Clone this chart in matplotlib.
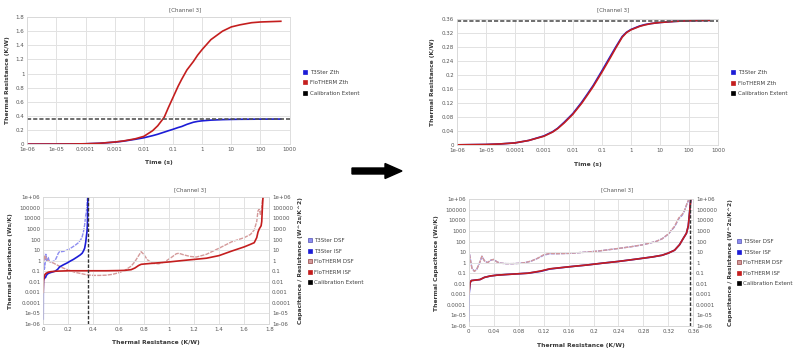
import matplotlib
matplotlib.use('Agg')
import matplotlib.pyplot as plt
from matplotlib.lines import Line2D
from matplotlib.patches import FancyArrow

plt.rcParams['font.family'] = 'DejaVu Sans'

# ---- data ----
time_ticks = [1e-6, 1e-5, 1e-4, 1e-3, 1e-2, 1e-1, 1, 10, 100, 1000]
time_labels = ['1e-06', '1e-05', '0.0001', '0.001', '0.01', '0.1', '1', '10', '100', '1000']
log_ticks = [1e-6, 1e-5, 1e-4, 1e-3, 1e-2, 1e-1, 1, 10, 100, 1e3, 1e4, 1e5, 1e6]
log_labels = ['1e-06', '1e-05', '0.0001', '0.001', '0.01', '0.1', '1', '10', '100',
              '1000', '10000', '100000', '1e+06']
calib_rth = 0.355

# top left: before calibration
t_left = [1e-6, 3e-6, 1e-5, 3e-5, 1e-4, 3e-4, 1e-3, 2e-3, 5e-3, 1e-2, 2e-2, 3e-2, 5e-2,
          7e-2, 0.1, 0.15, 0.2, 0.3, 0.5, 0.7, 1, 2, 5, 10, 20, 50, 100, 500]
t3ster_zth_left = [0, 0.0005, 0.001, 0.002, 0.005, 0.012, 0.028, 0.042, 0.068, 0.09,
                   0.12, 0.14, 0.17, 0.19, 0.21, 0.235, 0.25, 0.28, 0.31, 0.322, 0.33,
                   0.34, 0.347, 0.35, 0.352, 0.353, 0.354, 0.355]
flotherm_zth_left = [0, 0.0005, 0.001, 0.002, 0.005, 0.012, 0.03, 0.045, 0.075, 0.11,
                     0.19, 0.26, 0.38, 0.52, 0.66, 0.82, 0.92, 1.05, 1.17, 1.26, 1.34,
                     1.48, 1.6, 1.66, 1.69, 1.72, 1.73, 1.74]

# top right: after calibration
t_right = [1e-6, 3e-6, 1e-5, 3e-5, 1e-4, 3e-4, 1e-3, 2e-3, 3e-3, 5e-3, 1e-2, 2e-2, 3e-2,
           5e-2, 0.1, 0.2, 0.3, 0.5, 0.7, 1, 2, 3, 5, 10, 30, 100, 500]
t3ster_zth_right = [0.0005, 0.001, 0.0015, 0.003, 0.006, 0.013, 0.026, 0.038, 0.048,
                    0.065, 0.09, 0.122, 0.143, 0.17, 0.212, 0.255, 0.28, 0.31, 0.322,
                    0.33, 0.34, 0.344, 0.347, 0.35, 0.353, 0.355, 0.356]
flotherm_zth_right = [0.0005, 0.001, 0.0015, 0.003, 0.006, 0.013, 0.025, 0.037, 0.047,
                      0.063, 0.088, 0.119, 0.140, 0.167, 0.208, 0.251, 0.277, 0.308,
                      0.321, 0.329, 0.339, 0.343, 0.347, 0.35, 0.353, 0.355, 0.356]

# structure functions, T3Ster (same in both bottom panels)
r_t3_isf = [0, 0.0005, 0.002, 0.004, 0.01, 0.018, 0.025, 0.035, 0.045, 0.06, 0.075,
            0.095, 0.115, 0.13, 0.16, 0.19, 0.215, 0.24, 0.27, 0.295, 0.31, 0.32,
            0.33, 0.338, 0.344, 0.349, 0.352, 0.354, 0.356]
t3_isf = [3e-6, 1e-3, 0.012, 0.02, 0.022, 0.025, 0.04, 0.055, 0.065, 0.075, 0.085,
          0.1, 0.15, 0.25, 0.4, 0.6, 0.9, 1.3, 2.2, 3.5, 5, 8, 15, 50, 200, 600,
          3000, 5e4, 1e6]
r_t3_dsf = [0, 0.002, 0.005, 0.009, 0.013, 0.018, 0.021, 0.025, 0.03, 0.036, 0.04,
            0.045, 0.05, 0.06, 0.07, 0.08, 0.09, 0.1, 0.11, 0.12, 0.13, 0.14, 0.16,
            0.19, 0.21, 0.24, 0.26, 0.28, 0.3, 0.31, 0.32, 0.33, 0.337, 0.342, 0.346,
            0.35, 0.353]
t3_dsf = [20, 3, 0.3, 0.15, 0.25, 1.2, 4, 1.5, 1, 1.8, 2, 1.2, 0.9, 0.8, 0.8, 0.85,
          1, 1.4, 2.5, 5, 7, 7, 7.5, 10, 13, 22, 32, 50, 100, 180, 500, 2500, 1.5e4,
          3e4, 8e4, 4e5, 1e6]

# FloTHERM before calibration
r_fl_isf_left = [0, 0.002, 0.005, 0.01, 0.02, 0.04, 0.06, 0.1, 0.2, 0.3, 0.4, 0.5,
                 0.6, 0.65, 0.7, 0.73, 0.76, 0.78, 0.82, 0.9, 1.0, 1.1, 1.2, 1.3,
                 1.4, 1.5, 1.6, 1.65, 1.68, 1.7, 1.71, 1.72, 1.735, 1.74, 1.745, 1.75]
fl_isf_left = [1e-3, 0.012, 0.02, 0.04, 0.06, 0.08, 0.09, 0.1, 0.11, 0.11, 0.11, 0.11,
               0.115, 0.12, 0.14, 0.2, 0.35, 0.45, 0.5, 0.6, 0.75, 1.0, 1.3, 1.7, 3,
               8, 20, 35, 50, 150, 500, 1000, 2000, 5000, 1e5, 1e6]
r_fl_dsf_left = [0, 0.005, 0.01, 0.02, 0.03, 0.05, 0.08, 0.1, 0.15, 0.2, 0.25, 0.3,
                 0.35, 0.4, 0.45, 0.5, 0.55, 0.6, 0.65, 0.7, 0.73, 0.76, 0.78, 0.8,
                 0.83, 0.87, 0.92, 0.97, 1.02, 1.06, 1.08, 1.12, 1.17, 1.22, 1.3, 1.4,
                 1.5, 1.6, 1.65, 1.68, 1.7, 1.71, 1.72, 1.73, 1.74, 1.745, 1.75]
fl_dsf_left = [10, 1, 3, 2, 1.2, 0.8, 0.6, 0.45, 0.22, 0.13, 0.08, 0.06, 0.045, 0.04,
               0.04, 0.042, 0.05, 0.07, 0.12, 0.3, 0.8, 3, 7, 4, 1.2, 0.55, 0.5, 0.8,
               2, 4.5, 5, 3.5, 2.5, 2.2, 4, 15, 60, 150, 300, 800, 5000, 5e4, 8e4,
               2e4, 1e5, 5e5, 1e6]

# FloTHERM after calibration
fl_isf_right = [1e-3, 2e-3, 0.012, 0.02, 0.022, 0.025, 0.04, 0.055, 0.065, 0.075,
                0.085, 0.1, 0.16, 0.26, 0.4, 0.6, 0.9, 1.3, 2.2, 3.5, 5, 8, 15, 50,
                200, 600, 3000, 5e4, 1e6]
fl_dsf_right = [18, 3, 0.3, 0.15, 0.25, 1.2, 4, 1.5, 1, 1.8, 2, 1.2, 0.9, 0.8, 0.8,
                0.85, 1, 1.4, 2.5, 5.5, 7.5, 7, 7.5, 10, 13, 22, 32, 50, 100, 180, 520,
                2800, 1.8e4, 3.5e4, 9e4, 4e5, 1e6]

BLUE = '#1c1cd6'
RED = '#c41e1e'
BLUE_L = '#8d8df0'
RED_L = '#d49a9a'
GRID = '#e2e2e2'
TICK_C = '#555555'
LAB_C = '#383838'
FS = 4.0
LFS = 4.3

fig = plt.figure(figsize=(8, 3.55), dpi=100)


def style(ax):
    ax.grid(True, color=GRID, lw=0.7)
    ax.set_axisbelow(True)
    for s in ax.spines.values():
        s.set_color('#d8d8d8')
        s.set_linewidth(0.6)
    ax.tick_params(length=0, pad=2.0, labelsize=FS, colors=TICK_C)
    ax.minorticks_off()


def legend(ax, handles, x, y):
    ax.legend(handles=handles, loc='upper left', bbox_to_anchor=(x / 800, 1 - y / 355),
              bbox_transform=fig.transFigure, frameon=False, fontsize=FS,
              handlelength=0.6, handletextpad=0.5, labelspacing=1.0,
              borderpad=0, borderaxespad=0, labelcolor='#404040')


def sq(color, edge=None, label=''):
    return Line2D([], [], ls='none', marker='s', ms=2.8, mfc=color,
                  mec=edge or color, mew=0.5, label=label)


zth_handles = [sq(BLUE, label='T3Ster Zth'), sq(RED, label='FloTHERM Zth'),
               sq('black', label='Calibration Extent')]
sf_handles = [sq(BLUE_L, '#5050b0', 'T3Ster DSF'), sq(BLUE, label='T3Ster ISF'),
              sq(RED_L, '#904040', 'FloTHERM DSF'), sq(RED, label='FloTHERM ISF'),
              sq('black', label='Calibration Extent')]


def zth_panel(rect, t, blue, red, ymax, ystep, ylbl_x, xlbl_y, title_x, leg_x, leg_y):
    ax = fig.add_axes(rect)
    style(ax)
    ax.set_xscale('log')
    ax.plot(t, blue, color=BLUE, lw=1.2)
    ax.plot(t, red, color=RED, lw=1.2)
    ax.axhline(calib_rth, color='#555555', lw=1.2, ls=(0, (2.5, 1.2)))
    ax.set_xlim(1e-6, 1000)
    ax.set_xticks(time_ticks)
    ax.set_xticklabels(time_labels)
    ax.minorticks_off()
    n = int(round(ymax / ystep))
    yt = [round(i * ystep, 2) for i in range(n + 1)]
    ax.set_ylim(0, ymax)
    ax.set_yticks(yt)
    ax.set_yticklabels(['%g' % v for v in yt])
    ax.set_xlabel('Time (s)', fontsize=LFS, fontweight='bold', color=LAB_C)
    ax.xaxis.set_label_coords(0.5, xlbl_y)
    ax.set_ylabel('Thermal Resistance (K/W)', fontsize=LFS, fontweight='bold', color=LAB_C)
    ax.yaxis.set_label_coords(ylbl_x, 0.5)
    fig.text(title_x / 800, 1 - 10 / 355, '[Channel 3]', ha='center', va='center',
             fontsize=FS, color=TICK_C)
    legend(ax, zth_handles, leg_x, leg_y)


def sf_panel(rect, xmax, xstep, r_isf_b, isf_b, r_dsf_b, dsf_b, r_isf_r, isf_r,
             r_dsf_r, dsf_r, ylbl_l, ylbl_r, xlbl_y, title_x, leg_x, leg_y):
    ax = fig.add_axes(rect)
    style(ax)
    ax.set_yscale('log')
    ax2 = ax.twinx()
    ax2.set_yscale('log')
    style(ax2)
    ax2.grid(False)
    ax2.plot(r_dsf_b, dsf_b, color=BLUE_L, lw=1.0, ls=(0, (3, 0.8)))
    ax2.plot(r_dsf_r, dsf_r, color=RED_L, lw=1.0, ls=(0, (3, 0.8)))
    ax.plot(r_isf_b, isf_b, color=BLUE, lw=1.2)
    ax.plot(r_isf_r, isf_r, color=RED, lw=1.2)
    ax.axvline(calib_rth, color='#333333', lw=1.0, ls=(0, (2.5, 1.2)))
    for a in (ax, ax2):
        a.set_ylim(1e-6, 1e6)
        a.set_yticks(log_ticks)
        a.set_yticklabels(log_labels)
        a.minorticks_off()
    ax.set_zorder(ax2.get_zorder() + 1)
    ax.patch.set_visible(False)
    n = int(round(xmax / xstep))
    xt = [round(i * xstep, 2) for i in range(n + 1)]
    ax.set_xlim(0, xmax)
    ax.set_xticks(xt)
    ax.set_xticklabels(['%g' % v for v in xt])
    ax.set_xlabel('Thermal Resistance (K/W)', fontsize=LFS, fontweight='bold', color=LAB_C)
    ax.xaxis.set_label_coords(0.5, xlbl_y)
    ax.set_ylabel('Thermal Capacitance (Ws/K)', fontsize=LFS, fontweight='bold', color=LAB_C)
    ax.yaxis.set_label_coords(ylbl_l, 0.5)
    ax2.set_ylabel('Capacitance / Resistance (W^2s/K^2)', fontsize=LFS,
                   fontweight='bold', color=LAB_C)
    ax2.yaxis.set_label_coords(ylbl_r, 0.5)
    fig.text(title_x / 800, 1 - 190 / 355, '[Channel 3]', ha='center', va='center',
             fontsize=FS, color=TICK_C)
    legend(ax, sf_handles, leg_x, leg_y)


zth_panel([0.034, 0.594, 0.328, 0.358], t_left, t3ster_zth_left, flotherm_zth_left,
          1.8, 0.2, -0.066, -0.126, 185, 303.5, 69.5)
zth_panel([0.571, 0.5915, 0.3265, 0.355], t_right, t3ster_zth_right, flotherm_zth_right,
          0.36, 0.04, -0.084, -0.135, 613, 731.5, 70)

sf_panel([0.054, 0.0873, 0.2826, 0.357], 1.8, 0.2,
         r_t3_isf, t3_isf, r_t3_dsf, t3_dsf,
         r_fl_isf_left, fl_isf_left, r_fl_dsf_left, fl_dsf_left,
         -0.134, 1.127, -0.126, 190, 308, 238)
sf_panel([0.586, 0.0817, 0.2806, 0.357], 0.36, 0.04,
         r_t3_isf, t3_isf, r_t3_dsf, t3_dsf,
         r_t3_isf, fl_isf_right, r_t3_dsf, fl_dsf_right,
         -0.134, 1.154, -0.134, 617, 737, 239)

# arrow between the "before" and "after" columns
fig.patches.append(FancyArrow(352 / 800, 1 - 171 / 355, 50 / 800, 0,
                              width=6 / 355, head_width=15 / 355, head_length=17 / 800,
                              length_includes_head=True, color='black',
                              transform=fig.transFigure, figure=fig))

fig.savefig('out.png', dpi=100)
